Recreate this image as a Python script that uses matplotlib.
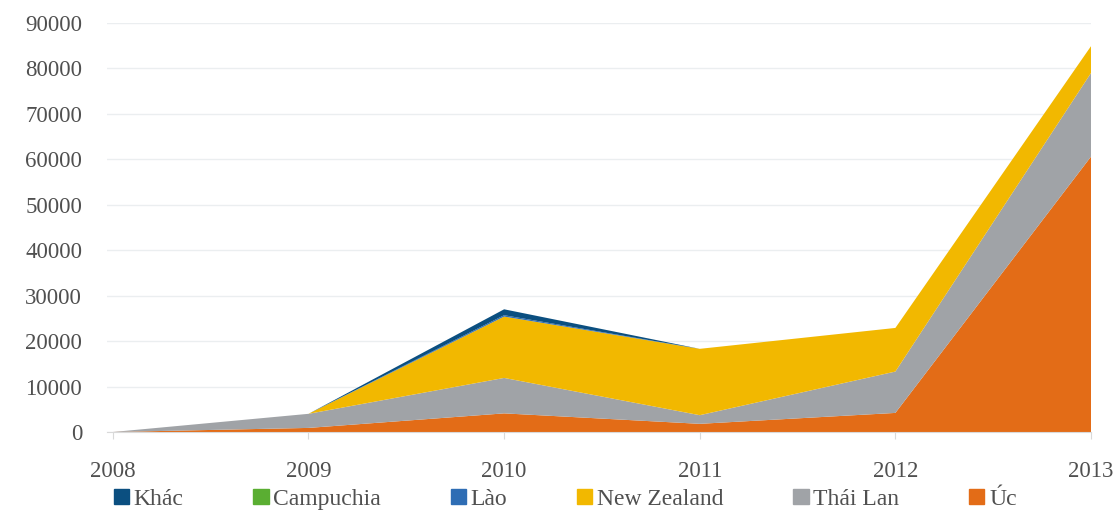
import matplotlib
matplotlib.use("Agg")
import matplotlib.pyplot as plt
from matplotlib.patches import Patch

years = [2008, 2009, 2010, 2011, 2012, 2013]
uc = [0, 900, 4100, 1800, 4200, 60600]
thai_lan = [0, 3100, 7800, 1900, 9100, 18400]
new_zealand = [0, 0, 13500, 14600, 9600, 5900]
lao = [0, 0, 300, 0, 0, 0]
campuchia = [0, 0, 0, 0, 0, 0]
khac = [0, 0, 1300, 0, 0, 0]

series_names = ["Úc", "Thái Lan", "New Zealand", "Lào", "Campuchia", "Khác"]
series_vals = [uc, thai_lan, new_zealand, lao, campuchia, khac]
colors = ["#E36C17", "#A0A3A7", "#F2B800", "#2E6DB4", "#5AAE32", "#0B4F80"]
yticks = [0, 10000, 20000, 30000, 40000, 50000, 60000, 70000, 80000, 90000]

plt.rcParams['font.family'] = ['Liberation Serif', 'DejaVu Serif']
fig = plt.figure(figsize=(11.19, 5.12), dpi=100)
ax = fig.add_axes([107/1119, 1-432/512, (1091-107)/1119, (432-23)/512])

ax.stackplot(years, *series_vals, colors=colors, linewidth=0)
ax.set_xlim(2007.97, 2013.0)
ax.set_ylim(0, 90000)
ax.set_yticks(yticks)
ax.set_yticklabels([str(v) for v in yticks])
ax.set_xticks(years)
ax.set_xticklabels([str(y) for y in years])
ax.grid(axis='y', color='#EBEEF0', linewidth=1)
ax.set_axisbelow(True)
for s in ['top', 'right', 'left']:
    ax.spines[s].set_visible(False)
ax.spines['bottom'].set_color('#D9D9D9')
ax.tick_params(axis='y', length=0, pad=18, labelsize=16.5, labelcolor='#505050')
ax.tick_params(axis='x', length=5, color='#D9D9D9', pad=16, labelsize=16.5, labelcolor='#505050')

handles = [Patch(color=c, label=n) for n, c in zip(series_names, colors)][::-1]
fig.legend(handles=handles, loc='center', bbox_to_anchor=(0.505, 0.025), ncol=6,
           frameon=False, fontsize=17, handlelength=0.65, handleheight=0.65,
           handletextpad=0.2, columnspacing=2.95, labelcolor='#505050')

fig.savefig("out.png", dpi=100)
